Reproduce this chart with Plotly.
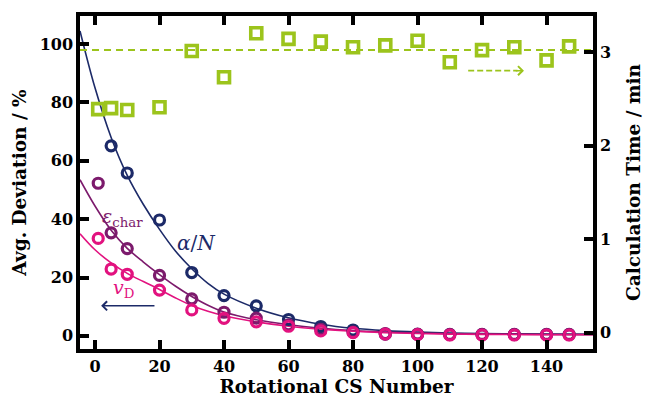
import plotly.graph_objects as go

# Rotational CS number for each run
cs_number = [1, 5, 10, 20, 30, 40, 50, 60, 70, 80, 90, 100, 110, 120, 130, 140, 147]

# Average deviations in percent (left axis)
dev_alpha_n_x = [5, 10, 20, 30, 40, 50, 60, 70, 80, 90, 100, 110, 120, 130, 140, 147]
dev_alpha_n = [65.1, 55.8, 39.7, 21.7, 13.8, 10.3, 5.6, 3.2, 2.0, 0.6, 0.5, 0.4, 0.4, 0.4, 0.4, 0.4]
dev_eps_char = [52.3, 35.3, 29.9, 20.7, 12.7, 8.1, 6.1, 3.8, 2.2, 1.3, 0.8, 0.6, 0.5, 0.5, 0.5, 0.5, 0.5]
dev_v_d = [33.4, 22.9, 21.1, 15.7, 8.9, 6.0, 4.8, 3.3, 1.7, 1.1, 0.6, 0.4, 0.3, 0.3, 0.3, 0.3, 0.3]

# Calculation time in minutes (right axis)
calc_time = [2.39, 2.40, 2.38, 2.41, 3.01, 2.73, 3.20, 3.14, 3.11, 3.05, 3.07, 3.12, 2.89, 3.02, 3.05, 2.91, 3.06]
calc_time_level = 3.02

# Exponential fit curves, sampled along the CS number axis
fit_x = [-4.65, 0, 5, 10, 15, 20, 25, 30, 35, 40, 50, 60, 70, 80, 90, 100, 110, 120, 130, 140, 154.4]
fit_alpha_n = [104.5, 85, 68, 55, 45, 36.5, 29, 23, 18, 14.3, 9.5, 6.2, 4.0, 2.6, 1.8, 1.3, 1.0, 0.8, 0.7, 0.6, 0.5]
fit_eps_char = [53.5, 44.5, 36.2, 30, 25.3, 21, 17, 13.5, 10.5, 8.2, 5.5, 3.8, 2.6, 1.8, 1.3, 1.0, 0.8, 0.7, 0.6, 0.5, 0.5]
fit_v_d = [35, 29.5, 25, 21.4, 18.6, 15.9, 13.0, 10.4, 8.4, 6.9, 4.8, 3.3, 2.3, 1.6, 1.1, 0.8, 0.6, 0.5, 0.45, 0.4, 0.4]

x_ticks = [0, 20, 40, 60, 80, 100, 120, 140]
y_ticks = [0, 20, 40, 60, 80, 100]
y2_ticks = [0, 1, 2, 3]
x_range = [-4.65, 154.4]
y_range = [-4.5, 109.6]
y2_range = [-0.172, 3.384]

NAVY = "#1c2a68"
PURPLE = "#7c1a6c"
PINK = "#e2127f"
GREEN = "#9cc41c"
FONT = "DejaVu Serif"

fig = go.Figure()

# fit curves
for ys, col in [(fit_alpha_n, NAVY), (fit_eps_char, PURPLE), (fit_v_d, PINK)]:
    fig.add_trace(go.Scatter(x=fit_x, y=ys, mode="lines",
                             line=dict(color=col, width=1.6, shape="spline", smoothing=1.0),
                             showlegend=False, hoverinfo="skip"))

# mean calculation time
fig.add_trace(go.Scatter(x=x_range, y=[calc_time_level, calc_time_level], yaxis="y2",
                         mode="lines", line=dict(color=GREEN, width=2, dash="7px,5px"),
                         showlegend=False, hoverinfo="skip"))

# measured deviations
for xs, ys, col in [(dev_alpha_n_x, dev_alpha_n, NAVY), (cs_number, dev_eps_char, PURPLE), (cs_number, dev_v_d, PINK)]:
    fig.add_trace(go.Scatter(x=xs, y=ys, mode="markers",
                             marker=dict(symbol="circle-open", size=10, color=col, line=dict(color=col, width=3.2)),
                             showlegend=False))

# calculation times
fig.add_trace(go.Scatter(x=cs_number, y=calc_time, yaxis="y2", mode="markers",
                         marker=dict(symbol="square-open", size=11, color=GREEN, line=dict(color=GREEN, width=3.6)),
                         showlegend=False))

# axis hint arrows
left_arrow = dict(x=[1.9, 18.9], y=10.3)
right_arrow = dict(x=[115.7, 133.0], y=2.80)

fig.add_annotation(x=left_arrow["x"][0], y=left_arrow["y"], ax=left_arrow["x"][1], ay=left_arrow["y"],
                   xref="x", yref="y", axref="x", ayref="y", text="", showarrow=True,
                   arrowhead=4, arrowsize=1.1, arrowwidth=1.6, arrowcolor=NAVY)
fig.add_trace(go.Scatter(x=[right_arrow["x"][0], right_arrow["x"][1] - 2], y=[right_arrow["y"]] * 2, yaxis="y2",
                         mode="lines", line=dict(color=GREEN, width=1.8, dash="6px,3px"),
                         showlegend=False, hoverinfo="skip"))
fig.add_annotation(x=right_arrow["x"][1], y=right_arrow["y"], ax=right_arrow["x"][1] - 3, ay=right_arrow["y"],
                   xref="x", yref="y2", axref="x", ayref="y2", text="", showarrow=True,
                   arrowhead=4, arrowsize=1.1, arrowwidth=1.6, arrowcolor=GREEN)

# series labels
labels = [
    ("<i>α</i>/<i>N</i>", 31.6, 31.8, NAVY, 20),
    ("<i>ε</i><sub>char</sub>", 8.4, 40.6, PURPLE, 19),
    ("<i>v</i><sub>D</sub>", 8.7, 16.4, PINK, 19),
]
for txt, lx, ly, col, fs in labels:
    fig.add_annotation(x=lx, y=ly, xref="x", yref="y", text=txt, showarrow=False,
                       font=dict(family=FONT, size=fs, color=col))

axis_common = dict(showgrid=False, zeroline=False, showline=True, linecolor="black", linewidth=3.5,
                   ticks="inside", ticklen=9, tickwidth=3.5, tickcolor="black", automargin=False,
                   tickfont=dict(family=FONT, size=16, color="black", weight="bold"))

title_font = dict(family=FONT, size=18.5, color="black", weight="bold")

fig.update_layout(
    width=664, height=398,
    margin=dict(l=80, r=71, t=16, b=49),
    paper_bgcolor="white", plot_bgcolor="white",
    xaxis=dict(range=x_range, tickvals=x_ticks, mirror="ticks",
               title=dict(text="Rotational CS Number", standoff=6, font=title_font),
               **axis_common),
    yaxis=dict(range=y_range, tickvals=y_ticks,
               title=dict(text="Avg. Deviation / %", standoff=9, font=title_font),
               **axis_common),
    yaxis2=dict(range=y2_range, tickvals=y2_ticks, overlaying="y", side="right",
                title=dict(text="Calculation Time / min", standoff=18, font=title_font),
                **axis_common),
)

fig.write_html("out.html")
